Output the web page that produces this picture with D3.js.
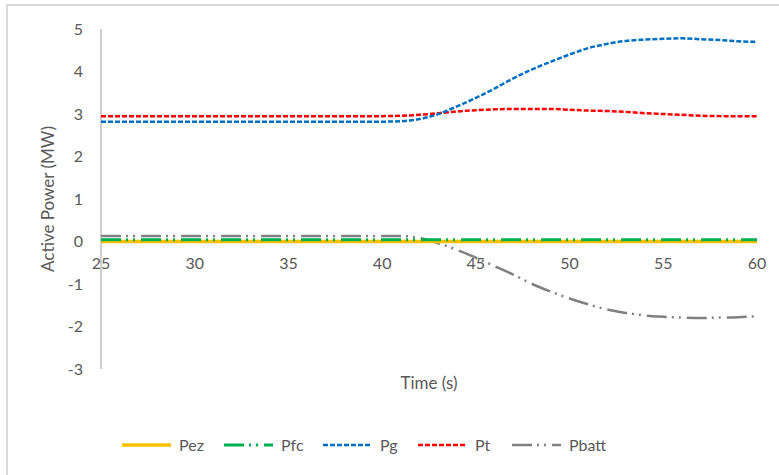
<!DOCTYPE html>
<html>
<head>
<meta charset="utf-8">
<script src="https://cdn.jsdelivr.net/npm/d3@7/dist/d3.min.js"></script>
<style>
  html, body { margin: 0; padding: 0; background: #fff; }
  svg { display: block; font-family: Lato, "Open Sans", "Liberation Sans", sans-serif; }
</style>
</head>
<body>
<svg id="chart" width="779" height="475"></svg>
<script>
// Time samples (s)
const time = [25, 30, 35, 40, 41, 42, 43, 44, 45, 46, 47, 48, 49, 50, 51, 52, 53, 54, 55, 56, 57, 58, 59, 60];

// Active power per source (MW)
const pez   = [0, 0, 0, 0, 0, 0, 0, 0, 0, 0, 0, 0, 0, 0, 0, 0, 0, 0, 0, 0, 0, 0, 0, 0];
const pfc   = [0.04, 0.04, 0.04, 0.04, 0.04, 0.04, 0.04, 0.04, 0.04, 0.04, 0.04, 0.04, 0.04, 0.04, 0.04, 0.04, 0.04, 0.04, 0.04, 0.04, 0.04, 0.04, 0.04, 0.04];
const pg    = [2.82, 2.82, 2.82, 2.82, 2.83, 2.88, 3.0, 3.18, 3.38, 3.6, 3.84, 4.05, 4.23, 4.4, 4.55, 4.65, 4.72, 4.75, 4.77, 4.78, 4.76, 4.74, 4.71, 4.7];
const pt    = [2.95, 2.95, 2.95, 2.95, 2.96, 2.98, 3.02, 3.06, 3.09, 3.11, 3.12, 3.12, 3.12, 3.1, 3.08, 3.07, 3.05, 3.02, 3.0, 2.98, 2.96, 2.95, 2.95, 2.95];
const pbatt = [0.13, 0.13, 0.13, 0.13, 0.13, 0.08, -0.04, -0.2, -0.38, -0.58, -0.78, -1.0, -1.18, -1.34, -1.48, -1.6, -1.68, -1.74, -1.77, -1.79, -1.8, -1.79, -1.78, -1.76];

const seriesNames = ["Pez", "Pfc", "Pg", "Pt", "Pbatt"];
const xTicks = [25, 30, 35, 40, 45, 50, 55, 60];
const yTicks = [-3, -2, -1, 0, 1, 2, 3, 4, 5];

const styles = {
  Pez:   { color: "#FFC000", width: 3.5, dash: null },
  Pfc:   { color: "#00B050", width: 3,   dash: "20,5,2,5,2,6" },
  Pg:    { color: "#0070C0", width: 2.5, dash: "5,2" },
  Pt:    { color: "#FF0000", width: 2.5, dash: "5,2" },
  Pbatt: { color: "#808080", width: 2.5, dash: "20,5,2,5,2,6" }
};

const values = { Pez: pez, Pfc: pfc, Pg: pg, Pt: pt, Pbatt: pbatt };

const svg = d3.select("#chart");

// chart frame
svg.append("rect")
  .attr("x", 7).attr("y", 5)
  .attr("width", 820).attr("height", 520)
  .attr("fill", "#fff")
  .attr("stroke", "#d9d9d9").attr("stroke-width", 2);

const x = d3.scaleLinear().domain([25, 60]).range([101, 757]);
const y = d3.scaleLinear().domain([-3, 5]).range([369, 29]);

const textColor = "#595959";

// vertical axis line and labels
svg.append("line")
  .attr("x1", x(25)).attr("x2", x(25))
  .attr("y1", y(5)).attr("y2", y(-3))
  .attr("stroke", "#bfbfbf").attr("stroke-width", 1.5);

svg.append("g").selectAll("text")
  .data(yTicks).join("text")
  .attr("x", 83)
  .attr("y", d => y(d))
  .attr("dy", "0.35em")
  .attr("text-anchor", "end")
  .attr("font-size", 16)
  .attr("fill", textColor)
  .text(d => d);

// horizontal axis labels sit under the zero line
svg.append("g").selectAll("text")
  .data(xTicks).join("text")
  .attr("x", d => x(d))
  .attr("y", y(0) + 27)
  .attr("text-anchor", "middle")
  .attr("font-size", 16)
  .attr("fill", textColor)
  .text(d => d);

// axis titles
svg.append("text")
  .attr("transform", `translate(54,${(y(5) + y(-3)) / 2}) rotate(-90)`)
  .attr("text-anchor", "middle")
  .attr("font-size", 17)
  .attr("fill", textColor)
  .text("Active Power (MW)");

svg.append("text")
  .attr("x", (x(25) + x(60)) / 2)
  .attr("y", 389)
  .attr("text-anchor", "middle")
  .attr("font-size", 17)
  .attr("fill", textColor)
  .text("Time (s)");

// series lines
const line = d3.line()
  .x((d, i) => x(time[i]))
  .y(d => y(d))
  .curve(d3.curveMonotoneX);

const drawOrder = ["Pbatt", "Pt", "Pg", "Pez", "Pfc"];
svg.append("g").selectAll("path")
  .data(drawOrder).join("path")
  .attr("d", k => line(values[k]))
  .attr("fill", "none")
  .attr("stroke", k => styles[k].color)
  .attr("stroke-width", k => styles[k].width)
  .attr("stroke-dasharray", k => styles[k].dash);

// legend
const legendX = [122, 224, 323, 418, 512];
const legend = svg.append("g").selectAll("g")
  .data(seriesNames).join("g")
  .attr("transform", (k, i) => `translate(${legendX[i]},445)`);

legend.append("line")
  .attr("x1", 0).attr("x2", 49)
  .attr("y1", 0).attr("y2", 0)
  .attr("stroke", k => styles[k].color)
  .attr("stroke-width", k => styles[k].width)
  .attr("stroke-dasharray", k => styles[k].dash);

legend.append("text")
  .attr("x", 57)
  .attr("y", 0)
  .attr("dy", "0.35em")
  .attr("font-size", 16)
  .attr("fill", textColor)
  .text(k => k);
</script>
</body>
</html>
